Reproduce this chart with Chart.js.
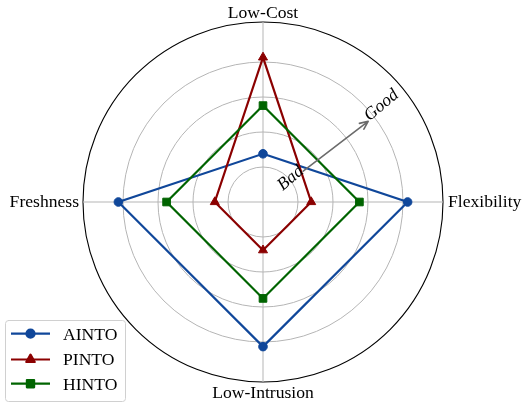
<!DOCTYPE html>
<html>
<head>
<meta charset="utf-8">
<script src="https://cdn.jsdelivr.net/npm/chart.js@4.4.1/dist/chart.umd.min.js"></script>
<style>
  html, body { margin: 0; padding: 0; background: #fff; }
  #wrap { width: 522px; height: 408px; }
</style>
</head>
<body>
<div id="wrap"><canvas id="radar" width="522" height="408"></canvas></div>
<script>
// axes, clockwise from the top
const axisLabels = ['Low-Cost', 'Flexibility', 'Low-Intrusion', 'Freshness'];

// scores per approach
const seriesNames = ['AINTO', 'PINTO', 'HINTO'];
const aintoScores = [1, 3, 3, 3];
const pintoScores = [3, 1, 1, 1];
const hintoScores = [2, 2, 2, 2];

// radial rings (no labels shown) and outer edge
const ringValues = [0.726, 1.452, 2.178, 2.904];
const radiusMax = 3.734;

// "Bad -> Good" arrow along one ray
const arrowAngleDeg = 37.5;
const arrowFrom = 1.05;
const arrowTo = 2.75;

const serif = "'Liberation Serif', 'Times New Roman', 'DejaVu Serif', serif";
const colors = ['#10479a', '#8b0000', '#006400'];
const markers = ['circle', 'triangle', 'rect'];
const markerSizes = [4.3, 5.2, 5.4];

// Etiketler, ok ve lejant kanvasa elle çiziliyor
const decorPlugin = {
    id: 'decor',
    afterDraw(chart) {
        const ctx = chart.ctx;
        const r = chart.scales.r;
        const outer = r.getDistanceFromCenterForValue(radiusMax);
        const cx = r.xCenter, cy = r.yCenter;

        ctx.save();
        ctx.fillStyle = '#000';
        ctx.font = '17.6px ' + serif;
        ctx.textBaseline = 'alphabetic';

        // axis labels
        ctx.textAlign = 'center';
        ctx.fillText(axisLabels[0], cx, cy - outer - 4.5);
        ctx.textAlign = 'left';
        ctx.fillText(axisLabels[1], cx + outer + 5, cy + 4.5);
        ctx.textAlign = 'center';
        ctx.fillText(axisLabels[2], cx, cy + outer + 15.5);
        ctx.textAlign = 'right';
        ctx.fillText(axisLabels[3], cx - outer - 4, cy + 4.5);

        // arrow
        const a = arrowAngleDeg * Math.PI / 180;
        const d0 = r.getDistanceFromCenterForValue(arrowFrom);
        const d1 = r.getDistanceFromCenterForValue(arrowTo);
        const x0 = cx + Math.cos(a) * d0, y0 = cy - Math.sin(a) * d0;
        const x1 = cx + Math.cos(a) * d1, y1 = cy - Math.sin(a) * d1;
        ctx.strokeStyle = '#6b6b6b';
        ctx.lineWidth = 1.6;
        ctx.lineCap = 'round';
        ctx.lineJoin = 'round';
        ctx.beginPath();
        ctx.moveTo(x0, y0);
        ctx.lineTo(x1, y1);
        const head = 9, spread = 0.42;
        ctx.moveTo(x1 - head * Math.cos(a - spread), y1 + head * Math.sin(a - spread));
        ctx.lineTo(x1, y1);
        ctx.lineTo(x1 - head * Math.cos(a + spread), y1 + head * Math.sin(a + spread));
        ctx.stroke();

        ctx.font = 'italic 17.6px ' + serif;
        ctx.fillStyle = '#000';
        const rot = -40 * Math.PI / 180;
        ctx.save();
        ctx.translate(x0, y0);
        ctx.rotate(rot);
        ctx.textAlign = 'right';
        ctx.fillText('Bad', 0, 2);
        ctx.restore();
        ctx.save();
        ctx.translate(x1, y1);
        ctx.rotate(rot);
        ctx.textAlign = 'left';
        ctx.fillText('Good', 1, 1);
        ctx.restore();

        // legend box
        ctx.fillStyle = 'rgba(255,255,255,0.85)';
        ctx.strokeStyle = '#d0d0d0';
        ctx.lineWidth = 1;
        ctx.beginPath();
        ctx.roundRect(5.5, 320.5, 120, 81, 3);
        ctx.fill();
        ctx.stroke();

        const rowY = [333.7, 359.5, 383.7];
        ctx.font = '17.6px ' + serif;
        ctx.textAlign = 'left';
        seriesNames.forEach((name, i) => {
            ctx.strokeStyle = colors[i];
            ctx.fillStyle = colors[i];
            ctx.lineWidth = 2.2;
            ctx.lineCap = 'butt';
            ctx.beginPath();
            ctx.moveTo(11, rowY[i]);
            ctx.lineTo(50, rowY[i]);
            ctx.stroke();
            Chart.helpers.drawPoint(ctx, {
                pointStyle: markers[i], radius: markerSizes[i] - 0.3, rotation: 0, borderWidth: 1
            }, 30.5, rowY[i]);
            ctx.fillStyle = '#000';
            ctx.fillText(name, 63, rowY[i] + 5.8);
        });
        ctx.restore();
    }
};

const allScores = [aintoScores, pintoScores, hintoScores];

new Chart(document.getElementById('radar'), {
    type: 'radar',
    data: {
        labels: axisLabels,
        datasets: seriesNames.map((name, i) => ({
            label: name,
            data: allScores[i],
            borderColor: colors[i],
            backgroundColor: colors[i],
            pointBackgroundColor: colors[i],
            pointBorderColor: colors[i],
            pointStyle: markers[i],
            pointRadius: markerSizes[i],
            pointBorderWidth: 1,
            borderWidth: 2.2,
            fill: false,
            tension: 0,
            order: 2 - i
        }))
    },
    options: {
        responsive: false,
        animation: false,
        layout: { padding: { top: 22, bottom: 26, left: 5, right: 0 } },
        plugins: {
            legend: { display: false },
            tooltip: { enabled: false }
        },
        scales: {
            r: {
                min: 0,
                max: radiusMax,
                afterBuildTicks: (scale) => {
                    scale.ticks = [0].concat(ringValues, [radiusMax]).map(v => ({ value: v }));
                },
                ticks: { display: false },
                pointLabels: { display: false },
                angleLines: { color: '#b5b5b5', lineWidth: 1 },
                grid: {
                    circular: true,
                    color: (c) => (c.tick && c.tick.value === radiusMax ? '#000000' : '#b5b5b5'),
                    lineWidth: (c) => (c.tick && c.tick.value === radiusMax ? 1.1 : 1)
                }
            }
        }
    },
    plugins: [decorPlugin]
});
</script>
</body>
</html>
